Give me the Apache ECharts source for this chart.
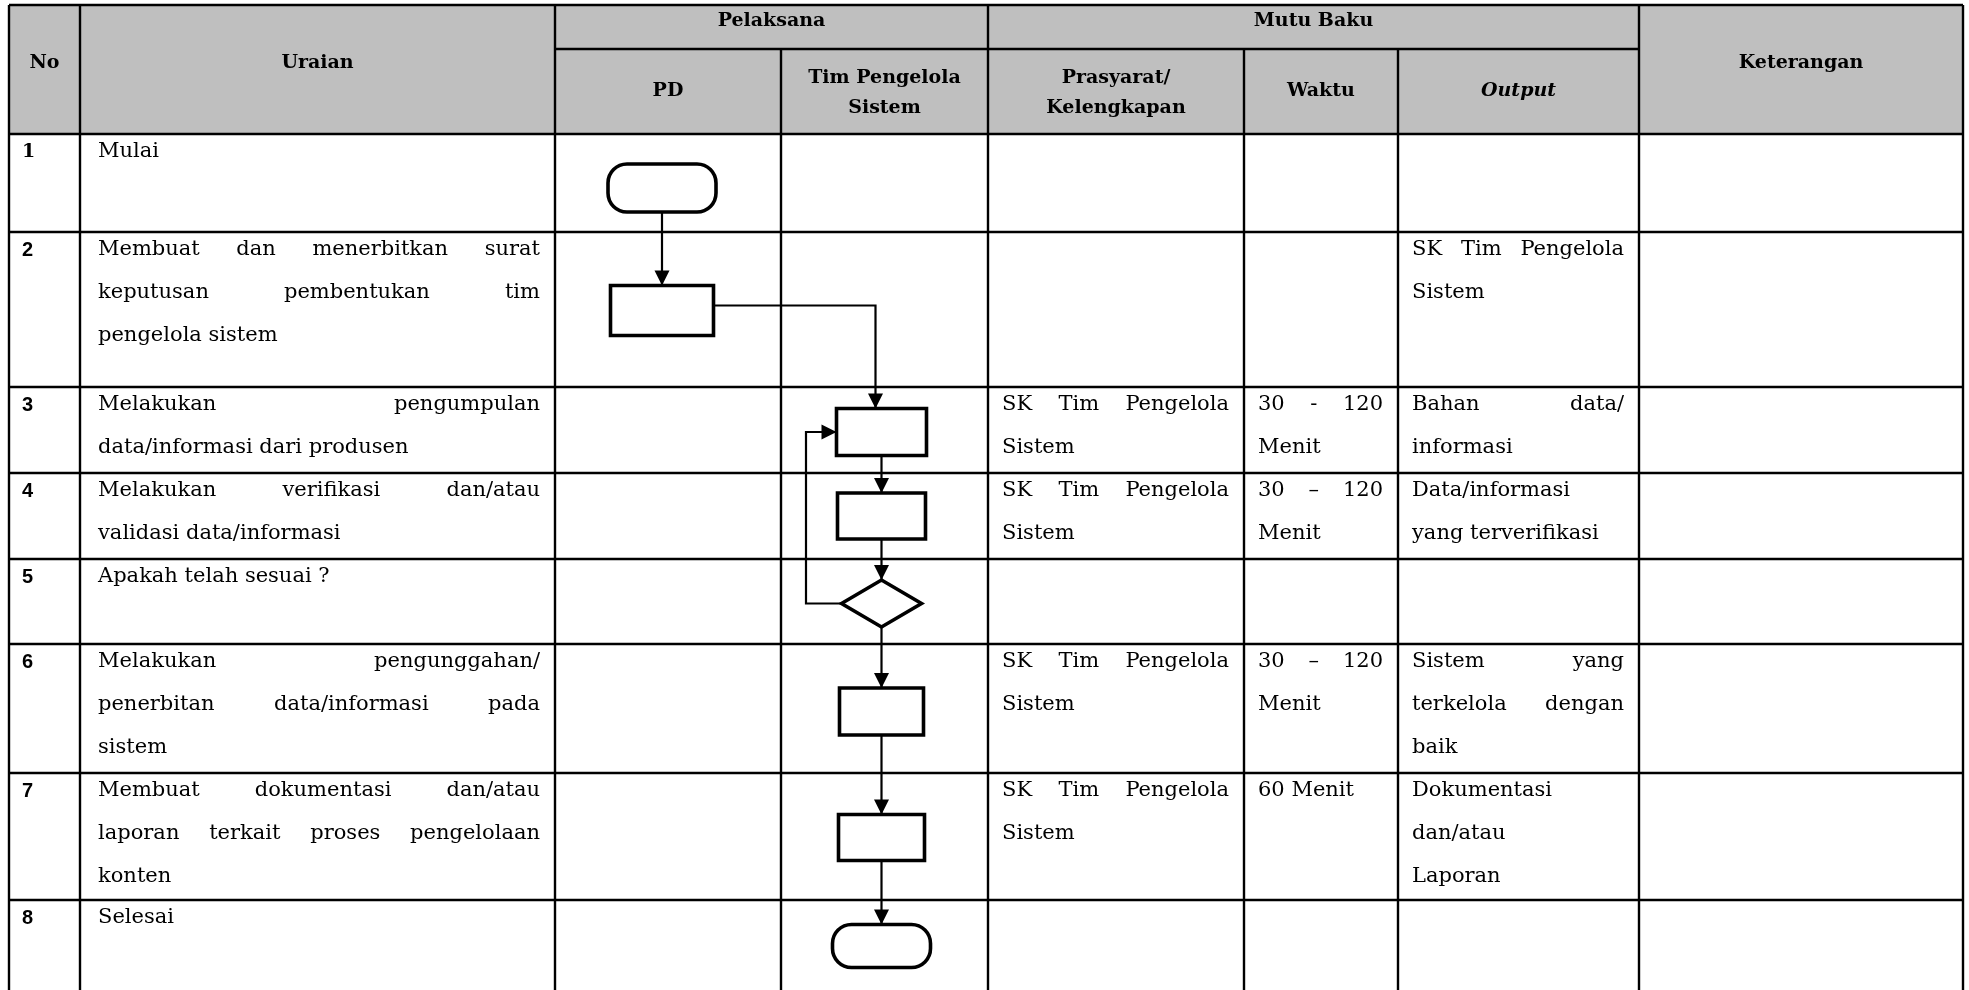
<!DOCTYPE html>
<html><head><meta charset="utf-8">
<script src="https://cdn.jsdelivr.net/npm/echarts@6/dist/echarts.min.js"></script>
<style>html,body{margin:0;padding:0;background:#fff}#c{width:1969px;height:990px}</style>
</head><body><div id="c"></div>
<script>
// ================= DATA =================
const spanHeaders = ['No', 'Uraian', 'Keterangan'];
const groupHeaders = ['Pelaksana', 'Mutu Baku'];
const subHeaders = ['PD', 'Tim Pengelola\nSistem', 'Prasyarat/\nKelengkapan', 'Waktu', 'Output'];
const stepNumbers = ['1', '2', '3', '4', '5', '6', '7', '8'];
const uraian = [
  'Mulai',
  'Membuat dan menerbitkan surat\nkeputusan pembentukan tim\npengelola sistem',
  'Melakukan pengumpulan\ndata/informasi dari produsen',
  'Melakukan verifikasi dan/atau\nvalidasi data/informasi',
  'Apakah telah sesuai ?',
  'Melakukan pengunggahan/\npenerbitan data/informasi pada\nsistem',
  'Membuat dokumentasi dan/atau\nlaporan terkait proses pengelolaan\nkonten',
  'Selesai'
];
const prasyarat = ['', '', 'SK Tim Pengelola\nSistem', 'SK Tim Pengelola\nSistem', '', 'SK Tim Pengelola\nSistem', 'SK Tim Pengelola\nSistem', ''];
const waktu = ['', '', '30 - 120\nMenit', '30 \u2013 120\nMenit', '', '30 \u2013 120\nMenit', '60 Menit', ''];
const outputs = ['', 'SK Tim Pengelola\nSistem', 'Bahan data/\ninformasi', 'Data/informasi\nyang terverifikasi', '', 'Sistem yang\nterkelola dengan\nbaik', 'Dokumentasi\ndan/atau\nLaporan', ''];
const keterangan = ['', '', '', '', '', '', '', ''];
const flowLane = ['PD', 'PD', 'Tim', 'Tim', 'Tim', 'Tim', 'Tim', 'Tim'];
const flowShape = ['terminal', 'process', 'process', 'process', 'decision', 'process', 'process', 'terminal'];
const flowNext = [[0, 1], [1, 2], [2, 3], [3, 4], [4, 5], [5, 6], [6, 7]];
const flowBack = [[4, 2]];

// ================= LAYOUT =================
const COL = [9, 80, 555, 781, 988, 1244, 1398, 1639, 1963];
const HEAD = { top: 5, mid: 49, bottom: 134 };
const ROW = [134, 232, 387, 473, 559, 644, 773, 900, 990];
const BODY_LH = 43, BODY_FIRST = 18, PAD_R = 15;
const PAD_L_COL = { 1: 18, 4: 14, 5: 14, 6: 14, 7: 14 };
const LANE_DX = { PD: -6, Tim: -3 };
const STEP_SIZE = [[108, 48], [103, 50], [90, 47], [88, 46], [80, 47], [84, 47], [86, 46], [98, 43]];
const STEP_DY = [5, 1, 2, 0, 2, 3, 1, 1];

const F_HEAD = { fontFamily: 'DejaVu Serif', fontSize: 19, fontWeight: 'bold', fontStyle: 'normal' };
const F_HEAD_I = { fontFamily: 'DejaVu Serif', fontSize: 19, fontWeight: 'bold', fontStyle: 'italic' };
const F_BODY = { fontFamily: 'DejaVu Serif', fontSize: 21, fontWeight: 'normal', fontStyle: 'normal' };
const F_NUM = { fontFamily: 'Liberation Sans', fontSize: 20, fontWeight: 'bold', fontStyle: 'normal' };
const F_NUM1 = { fontFamily: 'DejaVu Serif', fontSize: 19, fontWeight: 'bold', fontStyle: 'normal' };

const mctx = document.createElement('canvas').getContext('2d');
function measure(t, f) {
  mctx.font = f.fontStyle + ' ' + f.fontWeight + ' ' + f.fontSize + 'px "' + f.fontFamily + '"';
  return mctx.measureText(t).width;
}
function T(text, x, y, f, align) {
  return { type: 'text', style: { text: text, x: x, y: y, fill: '#000', fontFamily: f.fontFamily, fontSize: f.fontSize,
    fontWeight: f.fontWeight, fontStyle: f.fontStyle, align: align, verticalAlign: 'middle' } };
}

// ----- text items -----
const textItems = [];
const spanCols = [[0, 1], [1, 2], [7, 8]];
spanHeaders.forEach((t, i) => textItems.push({ c0: spanCols[i][0], c1: spanCols[i][1], y0: HEAD.top, y1: HEAD.bottom, text: t, f: F_HEAD, align: 'center', yc: 63, lh: 30 }));
const groupCols = [[2, 4], [4, 7]];
groupHeaders.forEach((t, i) => textItems.push({ c0: groupCols[i][0], c1: groupCols[i][1], y0: HEAD.top, y1: HEAD.mid, text: t, f: F_HEAD, align: 'center', yc: 21, lh: 30 }));
subHeaders.forEach((t, i) => textItems.push({ c0: 2 + i, c1: 3 + i, y0: HEAD.mid, y1: HEAD.bottom, text: t, f: i === 4 ? F_HEAD_I : F_HEAD, align: 'center', yc: t.indexOf('\n') >= 0 ? 93 : 91, lh: 30 }));
stepNumbers.forEach((t, r) => {
  textItems.push({ c0: 0, c1: 1, y0: ROW[r], y1: ROW[r + 1], text: t, f: r === 0 ? F_NUM1 : F_NUM, align: 'left', pl: 13 });
  [[1, uraian], [4, prasyarat], [5, waktu], [6, outputs], [7, keterangan]].forEach(([c, arr]) => {
    if (arr[r]) textItems.push({ c0: c, c1: c + 1, y0: ROW[r], y1: ROW[r + 1], text: arr[r], f: F_BODY, align: 'justify', pl: PAD_L_COL[c] });
  });
});

// ----- grid lines -----
const gridLines = [];
gridLines.push([COL[0], HEAD.top, COL[8], HEAD.top]);
gridLines.push([COL[2], HEAD.mid, COL[7], HEAD.mid]);
ROW.slice(0, ROW.length - 1).forEach(y => gridLines.push([COL[0], y, COL[8], y]));
[0, 1, 2, 4, 7, 8].forEach(c => gridLines.push([COL[c], HEAD.top, COL[c], ROW[ROW.length - 1]]));
[3, 5, 6].forEach(c => gridLines.push([COL[c], HEAD.mid, COL[c], ROW[ROW.length - 1]]));

// ----- flow geometry (data coords) -----
function laneCol(l) { return l === 'PD' ? 2 : 3; }
function stepGeom(i) {
  const c = laneCol(flowLane[i]);
  const cx = (COL[c] + COL[c + 1]) / 2 + LANE_DX[flowLane[i]], cy = (ROW[i] + ROW[i + 1]) / 2 + STEP_DY[i];
  const s = STEP_SIZE[i];
  return { cx: cx, cy: cy, l: cx - s[0] / 2, r: cx + s[0] / 2, t: cy - s[1] / 2, b: cy + s[1] / 2, lane: c };
}

const chart = echarts.init(document.getElementById('c'));
chart.setOption({
  animation: false,
  grid: { left: 0, right: 0, top: 0, bottom: 0 },
  xAxis: { type: 'value', min: 0, max: 1969, show: false },
  yAxis: { type: 'value', min: 0, max: 990, inverse: true, show: false },
  series: [
    { // header fill
      type: 'custom', silent: true, clip: false, z: 1,
      data: [[COL[0], HEAD.top, COL[8], HEAD.bottom]],
      encode: { x: [0, 2], y: [1, 3] },
      renderItem: function (p, api) {
        const a = api.coord([api.value(0), api.value(1)]), b = api.coord([api.value(2), api.value(3)]);
        return { type: 'rect', shape: { x: a[0], y: a[1], width: b[0] - a[0], height: b[1] - a[1] }, style: { fill: '#bfbfbf' } };
      }
    },
    { // grid lines
      type: 'custom', silent: true, clip: false, z: 2,
      data: gridLines,
      encode: { x: [0, 2], y: [1, 3] },
      renderItem: function (p, api) {
        const a = api.coord([api.value(0), api.value(1)]), b = api.coord([api.value(2), api.value(3)]);
        return { type: 'line', shape: { x1: a[0], y1: a[1], x2: b[0], y2: b[1] }, style: { stroke: '#000', lineWidth: 2.4 } };
      }
    },
    { // texts
      type: 'custom', silent: true, clip: false, z: 3,
      data: textItems.map(t => [COL[t.c0], t.y0, COL[t.c1], t.y1]),
      encode: { x: [0, 2], y: [1, 3] },
      renderItem: function (p, api) {
        const it = textItems[p.dataIndex];
        const a = api.coord([api.value(0), api.value(1)]), b = api.coord([api.value(2), api.value(3)]);
        const lines = it.text.split('\n');
        const children = [];
        if (it.align === 'center') {
          const yc = api.coord([0, it.yc])[1];
          const y0 = yc - (lines.length - 1) * it.lh / 2;
          lines.forEach((ln, i) => children.push(T(ln, (a[0] + b[0]) / 2, y0 + i * it.lh, it.f, 'center')));
        } else if (it.align === 'left') {
          children.push(T(it.text, a[0] + it.pl, a[1] + BODY_FIRST, it.f, 'left'));
        } else {
          const x0 = a[0] + it.pl, x1 = b[0] - PAD_R;
          lines.forEach((ln, i) => {
            const y = a[1] + BODY_FIRST + i * BODY_LH;
            const words = ln.split(' ').filter(Boolean);
            const last = i === lines.length - 1;
            const ws = words.map(w => measure(w, it.f));
            const sum = ws.reduce((s, v) => s + v, 0);
            const gap = words.length > 1 ? (x1 - x0 - sum) / (words.length - 1) : 0;
            if (last || words.length < 2 || gap < measure(' ', it.f)) {
              children.push(T(ln, x0, y, it.f, 'left'));
            } else {
              let x = x0;
              words.forEach((w, k) => { children.push(T(w, x, y, it.f, 'left')); x += ws[k] + gap; });
            }
          });
        }
        return { type: 'group', children: children };
      }
    },
    { // flow connectors
      type: 'custom', silent: true, clip: false, z: 4,
      data: flowNext.concat(flowBack).map(e => { const s = stepGeom(e[0]), d = stepGeom(e[1]); return [s.cx, s.cy, d.cx, d.cy]; }),
      encode: { x: [0, 2], y: [1, 3] },
      renderItem: function (p, api) {
        const isBack = p.dataIndex >= flowNext.length;
        const e = isBack ? flowBack[p.dataIndex - flowNext.length] : flowNext[p.dataIndex];
        const s = stepGeom(e[0]), d = stepGeom(e[1]);
        let pts, dir;
        if (isBack) {
          const lx = COL[d.lane] + 25;
          pts = [[s.l, s.cy], [lx, s.cy], [lx, d.cy], [d.l, d.cy]]; dir = 'right';
        } else if (s.lane !== d.lane) {
          pts = [[s.r, s.cy - 5], [d.cx - 6, s.cy - 5], [d.cx - 6, d.t]]; dir = 'down';
        } else {
          pts = [[d.cx, s.b], [d.cx, d.t]]; dir = 'down';
        }
        const px = pts.map(q => api.coord(q));
        const tip = px[px.length - 1];
        const AL = 15, AW = 7.5;
        const head = dir === 'down'
          ? [[tip[0] - AW, tip[1] - AL], [tip[0] + AW, tip[1] - AL], [tip[0], tip[1]]]
          : [[tip[0] - AL, tip[1] - AW], [tip[0] - AL, tip[1] + AW], [tip[0], tip[1]]];
        return { type: 'group', children: [
          { type: 'polyline', shape: { points: px }, style: { stroke: '#000', lineWidth: 2.2, fill: null } },
          { type: 'polygon', shape: { points: head }, style: { fill: '#000' } }
        ] };
      }
    },
    { // flow shapes
      type: 'custom', silent: true, clip: false, z: 5,
      data: flowShape.map((s, i) => { const g = stepGeom(i); return [g.cx, g.cy]; }),
      encode: { x: 0, y: 1 },
      renderItem: function (p, api) {
        const g = stepGeom(p.dataIndex);
        const a = api.coord([g.l, g.t]), b = api.coord([g.r, g.b]);
        const c = api.coord([g.cx, g.cy]);
        const kind = flowShape[p.dataIndex];
        const st = { stroke: '#000', lineWidth: 3.6, fill: '#fff' };
        if (kind === 'decision') {
          return { type: 'polygon', shape: { points: [[a[0], c[1]], [c[0], a[1]], [b[0], c[1]], [c[0], b[1]]] }, style: st };
        }
        return { type: 'rect', shape: { x: a[0], y: a[1], width: b[0] - a[0], height: b[1] - a[1], r: kind === 'terminal' ? 19 : 0 }, style: st };
      }
    }
  ]
});
</script></body></html>
